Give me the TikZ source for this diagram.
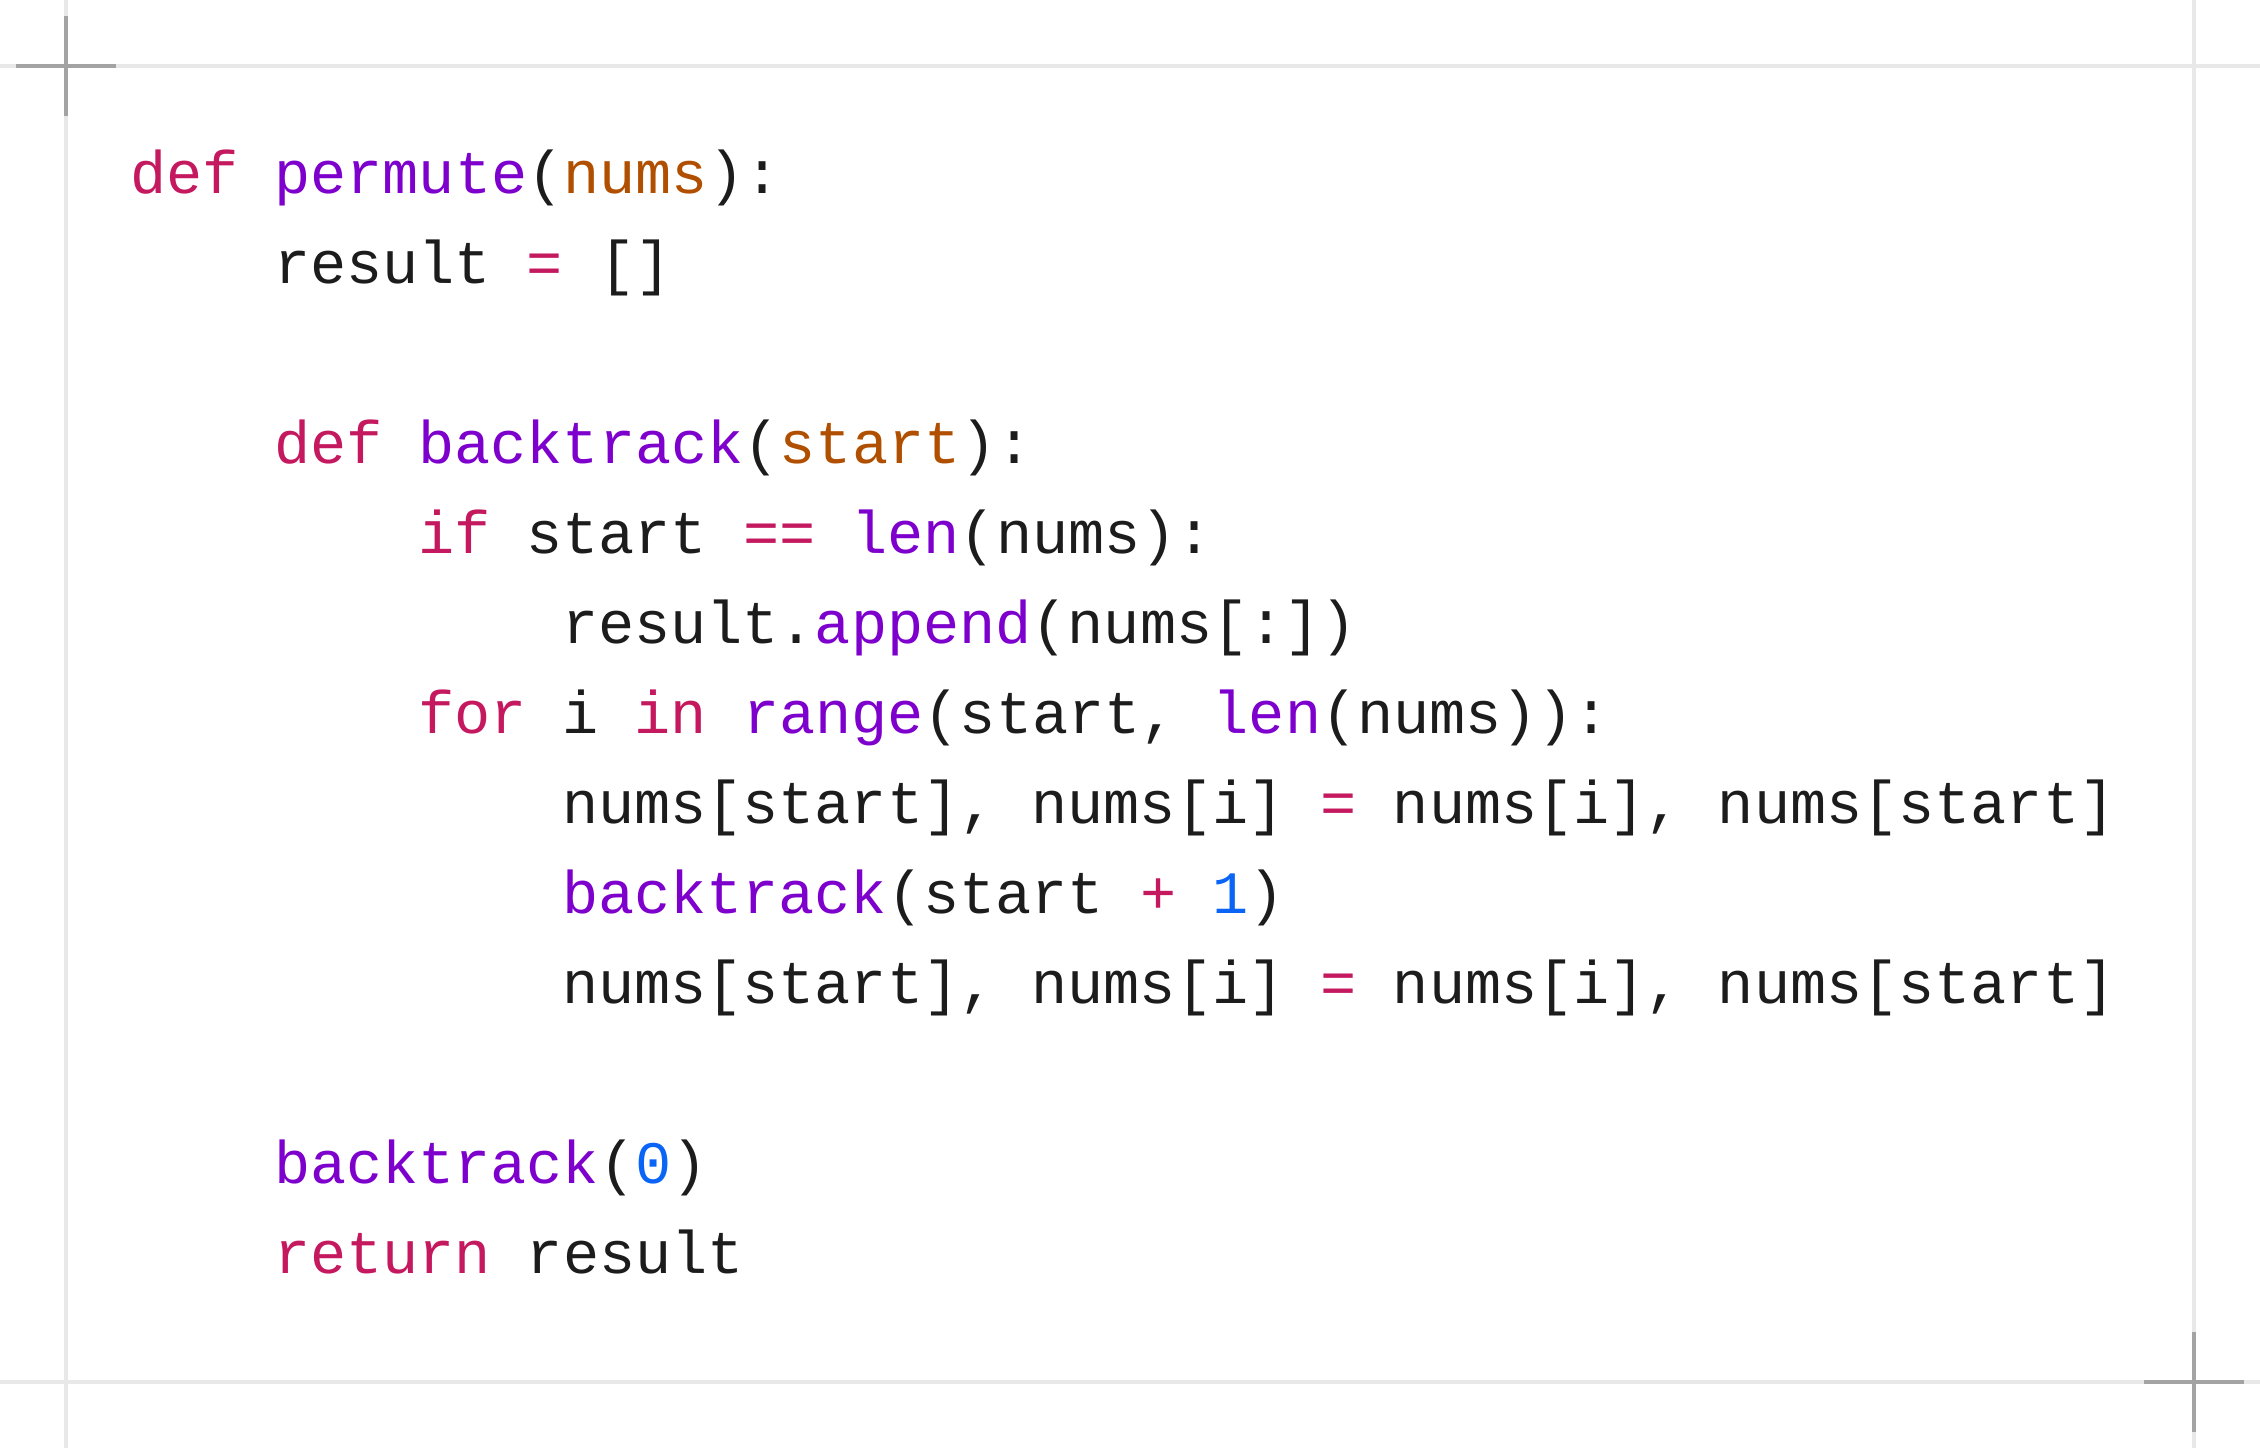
\documentclass[tikz,border=0pt]{standalone}
\usepackage{fontspec}
\setmonofont{Liberation Mono}
\usepackage{xcolor}
\usepackage{tikz}

\definecolor{kwred}{HTML}{C4195F}
\definecolor{fnpurple}{HTML}{7D00CC}
\definecolor{argorange}{HTML}{B04F00}
\definecolor{numblue}{HTML}{0A64F5}
\definecolor{codeblack}{HTML}{1C1C1C}
\definecolor{guidegray}{HTML}{E8E8E8}
\definecolor{markgray}{HTML}{A3A3A3}

\newcommand{\kw}[1]{\textcolor{kwred}{#1}}
\newcommand{\fn}[1]{\textcolor{fnpurple}{#1}}
\newcommand{\param}[1]{\textcolor{argorange}{#1}}
\newcommand{\num}[1]{\textcolor{numblue}{#1}}

\begin{document}
\begin{tikzpicture}[
    x=0.25pt, y=-0.25pt,
    code/.style={anchor=base west, inner sep=0pt, outer sep=0pt, text=codeblack,
        font=\ttfamily\fontsize{15.05}{18}\selectfont},
    guide/.style={guidegray, line width=1pt},
    cross/.style={markgray, line width=1pt}
]
\useasboundingbox (0,0) rectangle (2260,1448);

% Guides
\draw[guide] (0,66) -- (2260,66);
\draw[guide] (0,1382) -- (2260,1382);
\draw[guide] (66,0) -- (66,1448);
\draw[guide] (2194,0) -- (2194,1448);

% Crop marks
\foreach \cx/\cy in {66/66, 2194/1382} {
    \draw[cross] (\cx-50,\cy) -- (\cx+50,\cy);
    \draw[cross] (\cx,\cy-50) -- (\cx,\cy+50);
}

% Code lines
\node[code] (l0) at (130,193) {\kw{def} \fn{permute}(\param{nums}):};
\node[code] (l1) at (274,283) {result \kw{=} []};
\node[code] (l3) at (274,463) {\kw{def} \fn{backtrack}(\param{start}):};
\node[code] (l4) at (418,553) {\kw{if} start \kw{==} \fn{len}(nums):};
\node[code] (l5) at (562,643) {result.\fn{append}(nums[:])};
\node[code] (l6) at (418,733) {\kw{for} i \kw{in} \fn{range}(start, \fn{len}(nums)):};
\node[code] (l7) at (562,823) {nums[start], nums[i] \kw{=} nums[i], nums[start]};
\node[code] (l8) at (562,913) {\fn{backtrack}(start \kw{+} \num{1})};
\node[code] (l9) at (562,1003) {nums[start], nums[i] \kw{=} nums[i], nums[start]};
\node[code] (l11) at (274,1183) {\fn{backtrack}(\num{0})};
\node[code] (l12) at (274,1273) {\kw{return} result};

\end{tikzpicture}
\end{document}
